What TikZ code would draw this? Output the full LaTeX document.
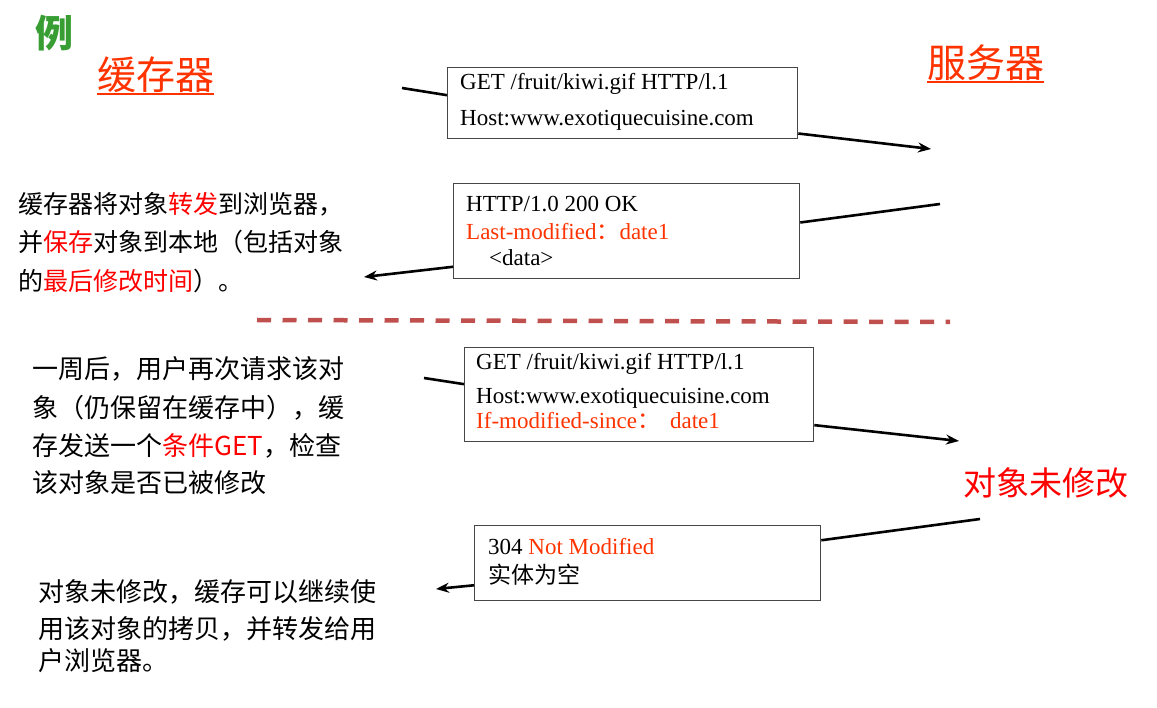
\documentclass[tikz,border=0pt]{standalone}
\usepackage{fontspec}
\setmainfont{Liberation Serif}
\newfontfamily\cjk{Noto Sans CJK SC}
\usetikzlibrary{arrows.meta,calc}
\definecolor{titlered}{RGB}{255,51,0}
\definecolor{hlred}{RGB}{255,0,0}
\definecolor{exgreen}{RGB}{56,158,52}
\definecolor{dashred}{RGB}{192,80,77}
\definecolor{boxgray}{RGB}{70,70,70}
\tikzset{
  txt/.style={inner sep=0pt,anchor=base west},
  msgbox/.style={draw=boxgray,line width=1.3pt,anchor=north west,inner sep=0pt},
  boxtxt/.style={txt,font=\fontsize{23}{23}\selectfont},
  conn/.style={line width=2.6pt,black},
  arr/.style={conn,-{Stealth[length=13pt,width=10pt]}},
  cjka/.style={txt,font=\cjk\fontsize{25}{25}\selectfont},
  cjkb/.style={txt,font=\cjk\fontsize{26}{26}\selectfont},
}
\begin{document}
\begin{tikzpicture}[x=1pt,y=-1pt]
\useasboundingbox (0,0) rectangle (1157,708);
% titles
\node[txt,font=\cjk\bfseries\fontsize{38}{38}\selectfont,text=exgreen] (ex) at (35,48) {例};
\node[txt,font=\cjk\fontsize{39}{39}\selectfont,text=titlered] (cache) at (97,90) {缓存器};
\draw[titlered,line width=1.8pt] ([yshift=-4pt]cache.base west) -- ([yshift=-4pt]cache.base east);
\node[txt,font=\cjk\fontsize{39}{39}\selectfont,text=titlered] (server) at (927,78) {服务器};
\draw[titlered,line width=1.8pt] ([yshift=-4pt]server.base west) -- ([yshift=-4pt]server.base east);
\node[txt,font=\cjk\fontsize{33}{33}\selectfont,text=hlred] (notmod) at (963,495) {对象未修改};

% box 1
\node[msgbox,minimum width=350pt,minimum height=71pt] (b1) at (447,67) {};
\node[boxtxt] (b1l1) at (460,90) {GET /fruit/kiwi.gif HTTP/l.1};
\node[boxtxt] (b1l2) at (460,126) {Host:www.exotiquecuisine.com};

% box 2
\node[msgbox,minimum width=346pt,minimum height=95pt] (b2) at (453,183) {};
\node[boxtxt] (b2l1) at (466,212) {HTTP/1.0 200 OK};
\node[boxtxt,text=titlered] (b2l2) at (466,240) {Last-modified{\cjk ：}date1};
\node[boxtxt] (b2l3) at (489,266) {<data>};

% box 3
\node[msgbox,minimum width=349pt,minimum height=94pt] (b3) at (464,347) {};
\node[boxtxt] (b3l1) at (476,370) {GET /fruit/kiwi.gif HTTP/l.1};
\node[boxtxt] (b3l2) at (476,404) {Host:www.exotiquecuisine.com};
\node[boxtxt,text=titlered] (b3l3) at (476,429) {If-modified-since{\cjk ：}\hspace{10pt}date1};

% box 4
\node[msgbox,minimum width=346pt,minimum height=75pt] (b4) at (474,525) {};
\node[boxtxt] (b4l1) at (488,554) {304 \textcolor{titlered}{Not Modified}};
\node[txt,font=\cjk\fontsize{23}{23}\selectfont] (b4l2) at (488,583) {实体为空};

% left texts
\node[cjka] (t1a) at (18,214) {缓存器将对象\textcolor{hlred}{转发}到浏览器，};
\node[cjka] (t1b) at (18,252) {并\textcolor{hlred}{保存}对象到本地（包括对象};
\node[cjka] (t1c) at (18,291) {的\textcolor{hlred}{最后修改时间}）。};

\node[cjkb] (t2a) at (32,379) {一周后，用户再次请求该对};
\node[cjkb] (t2b) at (32,418) {象（仍保留在缓存中），缓};
\node[cjkb] (t2c) at (32,456) {存发送一个\textcolor{hlred}{条件GET}，检查};
\node[cjkb] (t2d) at (32,493) {该对象是否已被修改};

\node[cjkb] (t3a) at (38,601) {对象未修改，缓存可以继续使};
\node[cjkb] (t3b) at (38,638) {用该对象的拷贝，并转发给用};
\node[cjkb] (t3c) at (38,670) {户浏览器。};

% dashed separator
\coordinate (dl) at (257,320);
\coordinate (dr) at (950,322);
\draw[dashred,line width=4.5pt,dash pattern=on 14pt off 11.5pt] (dl) -- (dr);

% connectors
\coordinate (c1a) at (402,88);
\coordinate (c1b) at (931,149);
\draw[conn] (c1a) -- ($(b1.north west)!0.39!(b1.south west)$);
\draw[arr] ($(b1.north east)!0.92!(b1.south east)$) -- (c1b);

\coordinate (c2a) at (940,204);
\coordinate (c2b) at (364,277);
\draw[conn] (c2a) -- ($(b2.north east)!0.41!(b2.south east)$);
\draw[arr] ($(b2.north west)!0.87!(b2.south west)$) -- (c2b);

\coordinate (c3a) at (424,378);
\coordinate (c3b) at (959,441);
\draw[conn] (c3a) -- ($(b3.north west)!0.39!(b3.south west)$);
\draw[arr] ($(b3.north east)!0.82!(b3.south east)$) -- (c3b);

\coordinate (c4a) at (980,519);
\coordinate (c4b) at (436,589);
\draw[conn] (c4a) -- ($(b4.north east)!0.2!(b4.south east)$);
\draw[arr] ($(b4.north west)!0.79!(b4.south west)$) -- (c4b);
\end{tikzpicture}
\end{document}
